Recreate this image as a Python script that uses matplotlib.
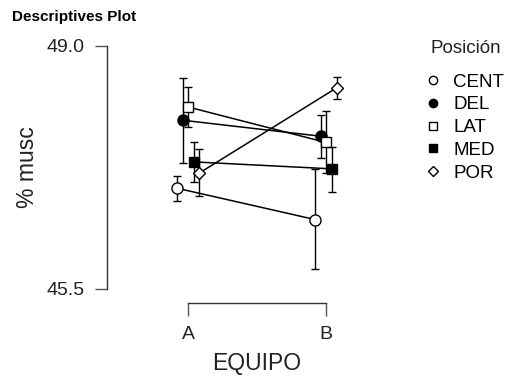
import matplotlib
matplotlib.use("Agg")
import matplotlib.pyplot as plt
import matplotlib.transforms as mtransforms
from matplotlib.lines import Line2D

plt.rcParams['font.family'] = ['Liberation Sans', 'DejaVu Sans']

# Data
groups = ["A", "B"]
positions = ["CENT", "DEL", "LAT", "MED", "POR"]
cent_mean = [46.95, 46.50]
cent_lo = [46.77, 45.79]
cent_hi = [47.13, 47.23]
del_mean = [47.93, 47.70]
del_lo = [47.32, 47.39]
del_hi = [48.54, 48.01]
lat_mean = [48.12, 47.61]
lat_lo = [47.83, 47.17]
lat_hi = [48.41, 48.07]
med_mean = [47.33, 47.23]
med_lo = [47.04, 46.90]
med_hi = [47.62, 47.55]
por_mean = [47.17, 48.40]
por_lo = [46.84, 48.24]
por_hi = [47.52, 48.55]

means = [cent_mean, del_mean, lat_mean, med_mean, por_mean]
lows = [cent_lo, del_lo, lat_lo, med_lo, por_lo]
highs = [cent_hi, del_hi, lat_hi, med_hi, por_hi]
markers = ['o', 'o', 's', 's', 'D']
faces = ['white', 'black', 'white', 'black', 'white']
msizes = [8, 8, 7, 7, 6.5]
legend_ms = [6, 6, 5.5, 5.5, 5.5]

fig = plt.figure(figsize=(5.05, 3.76), dpi=100)
ax = fig.add_axes([0.2113, 0.1934, 0.5016, 0.7003])

dodge = 0.04
for i, name in enumerate(positions):
    off = (i - 2) * dodge
    xs = [j + off for j in range(len(groups))]
    m = means[i]
    err = [[m[j] - lows[i][j] for j in range(2)], [highs[i][j] - m[j] for j in range(2)]]
    ax.errorbar(xs, m, yerr=err, fmt='-', color='black', lw=1.1, elinewidth=1.0,
                capsize=2.8, capthick=1.0, marker=markers[i], ms=msizes[i],
                mfc=faces[i], mec='black', mew=1.0, zorder=3 + i)

ax.set_xlim(-0.593, 1.247)
ax.set_ylim(45.294, 49.086)
ax.set_xticks([0, 1])
ax.set_xticklabels(groups)
ax.set_yticks([45.5, 49.0])
ax.set_yticklabels(["45.5", "49.0"])
ax.spines['top'].set_visible(False)
ax.spines['right'].set_visible(False)
ax.spines['left'].set_bounds(45.5, 49.0)
ax.spines['bottom'].set_bounds(0, 1)
for s in ['left', 'bottom']:
    ax.spines[s].set_color('#333333')
    ax.spines[s].set_linewidth(1.0)
ax.tick_params(axis='both', length=9, width=1.0, color='#555555', labelsize=14, pad=7,
               labelcolor='#222222')

ax.set_xlabel("EQUIPO", fontsize=16.5, color='#222222')
ax.set_ylabel("% musc", fontsize=16.5, color='#222222')
ax.xaxis.set_label_coords(0.5, -0.185, transform=mtransforms.blended_transform_factory(ax.transData, ax.transAxes))
ax.yaxis.set_label_coords(-0.267, 47.25, transform=mtransforms.blended_transform_factory(ax.transAxes, ax.transData))

handles = [Line2D([], [], ls='none', marker=markers[i], ms=legend_ms[i], mfc=faces[i],
                  mec='black', mew=1.0) for i in range(len(positions))]
fig.legend(handles, positions, loc='upper left',
           bbox_to_anchor=(425.5 / 505, 1 - 73.5 / 376), frameon=False, fontsize=13.5,
           handlelength=0.8, handletextpad=0.67, labelspacing=0.30,
           borderpad=0, borderaxespad=0)
fig.text(430 / 505, 1 - 40 / 376, "Posición", fontsize=13.5, va='top', ha='left',
         color='#222222')

fig.text(12 / 505, 1 - 10 / 376, "Descriptives Plot", fontsize=11, fontweight='bold',
         va='top', ha='left')

fig.savefig("out.png", dpi=100)
